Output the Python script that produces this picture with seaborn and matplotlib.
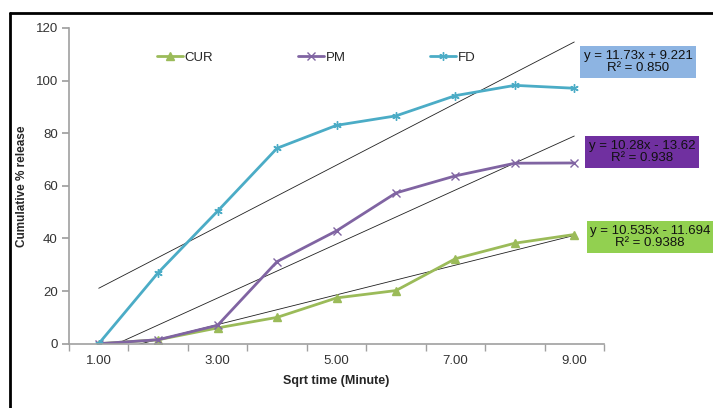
import numpy as np
import pandas as pd
import matplotlib.pyplot as plt
import seaborn as sns
from matplotlib.lines import Line2D

# sqrt time (category positions 1..9)
sqrt_time = [1, 2, 3, 4, 5, 6, 7, 8, 9]
cur = [0, 1.5, 6.0, 10.0, 17.4, 20.2, 32.3, 38.2, 41.5]
pm = [0, 1.5, 7.0, 31.2, 42.9, 57.3, 63.8, 68.6, 68.7]
fd = [0, 27.0, 50.4, 74.3, 83.0, 86.6, 94.3, 98.2, 97.1]

series_names = ['CUR', 'PM', 'FD']
series_colors = {'CUR': '#9BBB59', 'PM': '#8064A2', 'FD': '#4BACC6'}
series_markers = {'CUR': '^', 'PM': 'x', 'FD': (6, 2, 0)}

eq_labels = {
    'FD': 'y = 11.73x + 9.221\nR² = 0.850',
    'PM': 'y = 10.28x - 13.62\nR² = 0.938',
    'CUR': 'y = 10.535x - 11.694\nR² = 0.9388',
}
box_colors = {'FD': '#8DB4E2', 'PM': '#7030A0', 'CUR': '#92D050'}

x_ticks = [1, 3, 5, 7, 9]
x_ticklabels = ['1.00', '3.00', '5.00', '7.00', '9.00']
y_ticks = [0, 20, 40, 60, 80, 100, 120]

df = pd.DataFrame({'x': sqrt_time * 3,
                   'release': cur + pm + fd,
                   'series': sum([[s] * len(sqrt_time) for s in series_names], [])})

sns.set_theme(style='white')
plt.rcParams['font.family'] = ['Liberation Sans', 'DejaVu Sans']

fig = plt.figure(figsize=(7.13, 4.08), dpi=100)
W, H = 713, 408
ax = fig.add_axes([69 / W, 1 - 343.7 / H, (604 - 69) / W, (343.7 - 28) / H])

# linear trend lines (least squares fit of each series)
for name in series_names:
    sub = df[df['series'] == name]
    sns.regplot(data=sub, x='x', y='release', scatter=False, ci=None, ax=ax,
                color='black', line_kws={'lw': 0.6, 'color': '#202020'})

for name in series_names:
    sub = df[df['series'] == name]
    sns.lineplot(data=sub, x='x', y='release', color=series_colors[name],
                 marker=series_markers[name], lw=2, markersize=6,
                 markeredgewidth=1, markeredgecolor=series_colors[name], ax=ax)

ax.set_xlim(0.5, 9.5)
ax.set_ylim(0, 120)
ax.set_xticks(x_ticks)
ax.set_xticklabels(x_ticklabels)
ax.set_xticks(np.arange(0.5, 9.6, 1.0), minor=True)
ax.set_yticks(y_ticks)
ax.tick_params(axis='x', which='major', length=0, labelsize=9.5, colors='#333333', pad=8)
ax.tick_params(axis='x', which='minor', length=5, color='#A0A0A0', direction='out', bottom=True)
ax.tick_params(axis='y', length=5, color='#A0A0A0', direction='out', left=True,
               labelsize=9.5, labelcolor='#333333', pad=3)
for sp in ['top', 'right']:
    ax.spines[sp].set_visible(False)
for sp in ['left', 'bottom']:
    ax.spines[sp].set_color('#A0A0A0')
    ax.spines[sp].set_linewidth(1.2)

ax.set_xlabel('Sqrt time (Minute)', fontsize=9, fontweight='bold', labelpad=6)
ax.set_ylabel('Cumulative % release', fontsize=8.5, fontweight='bold')
ax.yaxis.set_label_coords(-0.077, 0.5)

handles = [Line2D([], [], color=series_colors[s], marker=series_markers[s], lw=2,
                  markersize=6, markeredgewidth=1) for s in series_names]
ax.legend(handles, series_names, ncol=3, frameon=False, fontsize=9.5,
          handlelength=2.0, handletextpad=0.1, columnspacing=6.4,
          loc='center', bbox_to_anchor=(0.462, 0.905))

box_pos = {'FD': (638, 62), 'PM': (642, 152), 'CUR': (650, 237)}
for name in series_names:
    bx, by = box_pos[name]
    fig.text(bx / W, 1 - by / H, eq_labels[name], ha='center', va='center',
             multialignment='center', fontsize=9.5, color='#111111', linespacing=1.05,
             bbox=dict(boxstyle='square,pad=0.25', fc=box_colors[name], ec='none'))

# black frame lines of the original figure
fig.add_artist(Line2D([10 / W, 1], [1 - 13 / H, 1 - 13 / H], color='black', lw=2,
                      transform=fig.transFigure))
fig.add_artist(Line2D([10 / W, 10 / W], [1 - 13 / H, 0], color='black', lw=2,
                      transform=fig.transFigure))

fig.savefig('out.png', dpi=100)
